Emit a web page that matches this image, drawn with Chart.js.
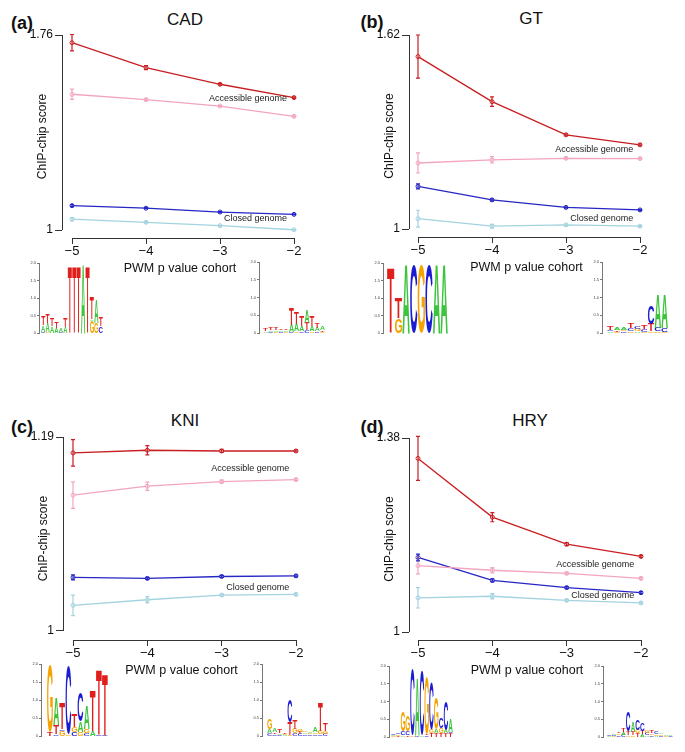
<!DOCTYPE html>
<html>
<head>
<meta charset="utf-8">
<script src="https://cdn.jsdelivr.net/npm/chart.js@4.4.0/dist/chart.umd.min.js"></script>
<style>
  body { margin: 0; background: #fff; font-family: "Liberation Sans", Arial, sans-serif; }
  #figure { position: relative; width: 685px; height: 752px; overflow: hidden; }
  #figure canvas { position: absolute; }
  .lbl { position: absolute; transform: translate(-50%, -50%); line-height: 1; white-space: nowrap; color: #111; }
  .panel { font-weight: bold; font-size: 18px; }
  .ttl { font-size: 17px; }
</style>
</head>
<body>
<div id="figure">
  <div class="lbl panel" style="left:22px;top:23px">(a)</div>
  <div class="lbl ttl" style="left:185px;top:19px">CAD</div>
  <div class="lbl panel" style="left:372px;top:22px">(b)</div>
  <div class="lbl ttl" style="left:531px;top:18px">GT</div>
  <div class="lbl panel" style="left:22px;top:427px">(c)</div>
  <div class="lbl ttl" style="left:185px;top:420px">KNI</div>
  <div class="lbl panel" style="left:372px;top:427px">(d)</div>
  <div class="lbl ttl" style="left:530px;top:420px">HRY</div>
</div>
<script>
/* data */

const cohorts = [-5, -4, -3, -2];

const cadAccDark = [1.730, 1.633, 1.568, 1.516];
const cadAccDarkErr = [0.032, 0.008, 0.003, 0.003];
const cadAccLight = [1.529, 1.508, 1.483, 1.443];
const cadAccLightErr = [0.020, 0.004, 0.002, 0.002];
const cadClosedDark = [1.095, 1.085, 1.070, 1.061];
const cadClosedDarkErr = [0.004, 0.002, 0.002, 0.002];
const cadClosedLight = [1.042, 1.030, 1.017, 1.001];
const cadClosedLightErr = [0.006, 0.003, 0.002, 0.002];

const gtAccDark = [1.551, 1.407, 1.301, 1.269];
const gtAccDarkErr = [0.069, 0.015, 0.003, 0.003];
const gtAccLight = [1.211, 1.221, 1.226, 1.225];
const gtAccLightErr = [0.032, 0.010, 0.003, 0.002];
const gtClosedDark = [1.136, 1.093, 1.069, 1.061];
const gtClosedDarkErr = [0.008, 0.003, 0.002, 0.002];
const gtClosedLight = [1.033, 1.009, 1.013, 1.009];
const gtClosedLightErr = [0.027, 0.006, 0.003, 0.002];

const kniAccDark = [1.1744, 1.1770, 1.1763, 1.1763];
const kniAccDarkErr = [0.013, 0.0046, 0.0015, 0.001];
const kniAccLight = [1.1330, 1.1418, 1.1463, 1.1483];
const kniAccLightErr = [0.013, 0.004, 0.0015, 0.001];
const kniClosedDark = [1.0525, 1.0515, 1.0534, 1.0540];
const kniClosedDarkErr = [0.0025, 0.001, 0.001, 0.001];
const kniClosedLight = [1.0251, 1.0306, 1.0352, 1.0358];
const kniClosedLightErr = [0.010, 0.003, 0.001, 0.001];

const hryAccDark = [1.340, 1.225, 1.172, 1.148];
const hryAccDarkErr = [0.043, 0.009, 0.003, 0.002];
const hryAccLight = [1.130, 1.121, 1.115, 1.105];
const hryAccLightErr = [0.016, 0.005, 0.002, 0.002];
const hryClosedDark = [1.146, 1.101, 1.087, 1.077];
const hryClosedDarkErr = [0.0065, 0.003, 0.002, 0.002];
const hryClosedLight = [1.067, 1.070, 1.062, 1.057];
const hryClosedLightErr = [0.020, 0.005, 0.002, 0.002];

/* sequence logos, letters listed bottom to top with their height in bits */

const cadLogoStrong = [
  [['C', .03], ['A', .2], ['T', .25]],
  [['G', .03], ['A', .25], ['T', .27]],
  [['A', .2], ['T', .22]],
  [['A', .15], ['T', .2]],
  [['C', .04], ['A', .1]],
  [['A', .18], ['T', .27]],
  [['T', 1.9]],
  [['T', 1.9]],
  [['T', 1.9]],
  [['A', 1.95]],
  [['T', 1.9]],
  [['G', .35], ['A', .05], ['T', .62]],
  [['G', .3], ['A', .65]],
  [['C', .2], ['T', .25]]
];
const cadLogoWeak = [
  [['A', .05], ['T', .07]],
  [['C', .04], ['A', .05], ['T', .06]],
  [['G', .03], ['A', .05], ['T', .06]],
  [['C', .04], ['A', .04], ['T', .05]],
  [['G', .03], ['A', .05], ['T', .05]],
  [['C', .03], ['A', .2], ['T', .47]],
  [['G', .05], ['A', .2], ['T', .32]],
  [['C', .05], ['A', .15], ['T', .3]],
  [['C', .08], ['T', .2], ['A', .35]],
  [['G', .05], ['A', .15], ['T', .3]],
  [['C', .05], ['A', .1], ['T', .15]],
  [['G', .03], ['T', .05], ['A', .12]]
];
const gtLogoStrong = [
  [['T', 1.85]],
  [['G', .42], ['T', .58]],
  [['A', 1.95]],
  [['C', 1.95]],
  [['G', 1.95]],
  [['C', 1.95]],
  [['A', 1.95]],
  [['A', 1.95]]
];
const gtLogoWeak = [
  [['A', .05], ['C', .04], ['T', .12]],
  [['G', .03], ['T', .05], ['A', .08]],
  [['C', .05], ['G', .04], ['A', .08]],
  [['G', .05], ['C', .08], ['T', .15]],
  [['A', .05], ['G', .06], ['C', .08]],
  [['G', .04], ['C', .06], ['T', .12]],
  [['G', .05], ['T', .2], ['C', .5]],
  [['G', .05], ['C', .1], ['A', .95]],
  [['G', .04], ['C', .1], ['A', .95]]
];
const kniLogoStrong = [
  [['T', .1], ['G', 1.85]],
  [['C', .05], ['T', .25], ['A', .75]],
  [['G', .15], ['C', .05], ['T', .7]],
  [['G', .05], ['C', 1.9]],
  [['C', .1], ['G', .15], ['T', .35]],
  [['G', .1], ['A', .3], ['C', .8]],
  [['C', .08], ['G', .12], ['A', .65]],
  [['A', .15], ['T', 1.1]],
  [['C', .03], ['T', 1.82]],
  [['C', .04], ['T', 1.7]]
];
const kniLogoWeak = [
  [['C', .08], ['A', .1], ['G', .3]],
  [['C', .05], ['T', .05], ['A', .12]],
  [['C', .04], ['A', .04], ['T', .1]],
  [['A', .03], ['G', .03], ['T', .05]],
  [['G', .03], ['T', .35], ['C', .6]],
  [['C', .07], ['G', .13], ['T', .25]],
  [['C', .06], ['T', .06], ['G', .08]],
  [['C', .05], ['A', .05], ['G', .05]],
  [['C', .05], ['G', .04], ['A', .04]],
  [['C', .05], ['G', .05], ['A', .15]],
  [['C', .05], ['G', .1], ['T', .8]],
  [['C', .06], ['G', .08], ['T', .2]]
];
const hryLogoStrong = [
  [['G', .03], ['A', .03], ['C', .05]],
  [['T', .03], ['G', .04], ['C', .05]],
  [['A', .05], ['C', .1], ['G', .55]],
  [['T', .05], ['C', .1], ['G', .45]],
  [['G', .05], ['C', 1.85]],
  [['C', .05], ['A', 1.6]],
  [['A', .05], ['C', 1.8]],
  [['C', .05], ['T', .05], ['G', 1.6]],
  [['T', .1], ['G', .1], ['C', 1.35]],
  [['T', .1], ['A', .1], ['G', .9]],
  [['T', .1], ['G', .15], ['C', .3]],
  [['T', .1], ['A', .1], ['C', .8]],
  [['T', .1], ['C', .05], ['A', .35]]
];
const hryLogoWeak = [
  [['A', .02], ['C', .02]],
  [['G', .03], ['C', .03], ['A', .04]],
  [['C', .05], ['G', .05], ['T', .05]],
  [['C', .06], ['A', .08], ['T', .1]],
  [['G', .05], ['T', .1], ['C', .55]],
  [['G', .05], ['T', .1], ['A', .3]],
  [['T', .1], ['G', .1], ['C', .3]],
  [['A', .08], ['T', .1], ['C', .22]],
  [['A', .05], ['C', .07], ['G', .08]],
  [['C', .05], ['G', .05], ['T', .08]],
  [['A', .04], ['G', .05], ['C', .08]],
  [['C', .04], ['G', .04], ['A', .05]],
  [['G', .03], ['A', .03]],
  [['C', .02], ['A', .02]]
];

/* colours */

const RED = '#c81e22', PINK = '#f3a5be', BLUE = '#2626c4', LBLUE = '#a3d3df';
const letterColors = { A: '#3cc43c', C: '#1c1cd2', G: '#f5a300', T: '#e01f1c' };

Chart.defaults.font.family = '"Liberation Sans", Arial, sans-serif';
Chart.defaults.color = '#111';

function series(values, errors, color) {
    return { values: values, errors: errors, color: color };
}

const panels = [
    { ox: 0, oy: 0, yAxisX: 62, x5: 72, x2: 294, yTop: 35, yBot: 230, axisY: 238, top: 1.76,
      series: [series(cadClosedLight, cadClosedLightErr, LBLUE), series(cadAccLight, cadAccLightErr, PINK),
               series(cadClosedDark, cadClosedDarkErr, BLUE), series(cadAccDark, cadAccDarkErr, RED)],
      notes: [['Accessible genome', -2.095, 1.511], ['Closed genome', -2.095, 1.043]] },
    { ox: 340, oy: 0, yAxisX: 409, x5: 418, x2: 640, yTop: 35, yBot: 229, axisY: 237, top: 1.62,
      series: [series(gtClosedLight, gtClosedLightErr, LBLUE), series(gtAccLight, gtAccLightErr, PINK),
               series(gtClosedDark, gtClosedDarkErr, BLUE), series(gtAccDark, gtAccDarkErr, RED)],
      notes: [['Accessible genome', -2.09, 1.2525], ['Closed genome', -2.09, 1.035]] },
    { ox: 0, oy: 380, yAxisX: 63, x5: 73, x2: 296, yTop: 437, yBot: 631, axisY: 640, top: 1.19,
      series: [series(kniClosedLight, kniClosedLightErr, LBLUE), series(kniAccLight, kniAccLightErr, PINK),
               series(kniClosedDark, kniClosedDarkErr, BLUE), series(kniAccDark, kniAccDarkErr, RED)],
      notes: [['Accessible genome', -2.09, 1.1596], ['Closed genome', -2.09, 1.043]] },
    { ox: 340, oy: 380, yAxisX: 409, x5: 418, x2: 641, yTop: 438, yBot: 632, axisY: 640, top: 1.38,
      series: [series(hryClosedLight, hryClosedLightErr, LBLUE), series(hryAccLight, hryAccLightErr, PINK),
               series(hryClosedDark, hryClosedDarkErr, BLUE), series(hryAccDark, hryAccDarkErr, RED)],
      notes: [['Accessible genome', -2.09, 1.133], ['Closed genome', -2.09, 1.0705]] }
];

const logos = [
    { columns: cadLogoStrong, axisX: 39, left: 41, right: 103, yTop: 263, yBot: 333 },
    { columns: cadLogoWeak, axisX: 259, left: 263, right: 325, yTop: 262, yBot: 333 },
    { columns: gtLogoStrong, axisX: 383, left: 387, right: 448, yTop: 263, yBot: 333 },
    { columns: gtLogoWeak, axisX: 602, left: 607, right: 668, yTop: 262, yBot: 333 },
    { columns: kniLogoStrong, axisX: 41, left: 47, right: 108, yTop: 664, yBot: 736 },
    { columns: kniLogoWeak, axisX: 262, left: 267, right: 328, yTop: 664, yBot: 736 },
    { columns: hryLogoStrong, axisX: 389, left: 391, right: 453, yTop: 666, yBot: 737 },
    { columns: hryLogoWeak, axisX: 603, left: 607, right: 673, yTop: 666, yBot: 737 }
];

/* plugins */

const errorBars = {
    id: 'errorBars',
    afterDatasetsDraw(chart) {
        const { ctx, scales: { x, y } } = chart;
        chart.data.datasets.forEach(function (ds) {
            ctx.save();
            ctx.strokeStyle = ds.borderColor;
            ctx.lineWidth = 1.2;
            ds.data.forEach(function (pt, i) {
                const e = ds.errors[i];
                const px = x.getPixelForValue(pt.x);
                const y0 = y.getPixelForValue(pt.y - e), y1 = y.getPixelForValue(pt.y + e);
                ctx.beginPath();
                ctx.moveTo(px, y0); ctx.lineTo(px, y1);
                ctx.moveTo(px - 2, y0); ctx.lineTo(px + 2, y0);
                ctx.moveTo(px - 2, y1); ctx.lineTo(px + 2, y1);
                ctx.stroke();
            });
            ctx.restore();
        });
    }
};

// R style axes: lines only over the tick range
const rAxes = {
    id: 'rAxes',
    afterDraw(chart, args, opts) {
        const { ctx, chartArea, scales: { x, y } } = chart;
        ctx.save();
        ctx.strokeStyle = '#333';
        ctx.lineWidth = 1;
        ctx.beginPath();
        ctx.moveTo(chartArea.left + 0.5, y.getPixelForValue(1));
        ctx.lineTo(chartArea.left + 0.5, y.getPixelForValue(opts.top));
        ctx.moveTo(x.getPixelForValue(cohorts[0]), chartArea.bottom + 0.5);
        ctx.lineTo(x.getPixelForValue(cohorts[cohorts.length - 1]), chartArea.bottom + 0.5);
        ctx.stroke();
        ctx.restore();
    }
};

const notes = {
    id: 'notes',
    afterDatasetsDraw(chart, args, opts) {
        const { ctx, scales: { x, y } } = chart;
        ctx.save();
        ctx.font = '9px "Liberation Sans", Arial, sans-serif';
        ctx.fillStyle = '#222';
        ctx.textAlign = 'right';
        ctx.textBaseline = 'middle';
        opts.items.forEach(function (n) {
            ctx.fillText(n[0], x.getPixelForValue(n[1]), y.getPixelForValue(n[2]));
        });
        ctx.restore();
    }
};

function drawLetter(ctx, letter, x0, x1, yTop, yBottom) {
    const bw = x1 - x0, bh = yBottom - yTop;
    if (bh < 0.3) return;
    ctx.save();
    ctx.font = 'bold 100px "Liberation Sans", Arial, sans-serif';
    ctx.textAlign = 'left';
    ctx.textBaseline = 'alphabetic';
    const m = ctx.measureText(letter);
    const gw = m.actualBoundingBoxLeft + m.actualBoundingBoxRight;
    const gh = m.actualBoundingBoxAscent + m.actualBoundingBoxDescent;
    ctx.translate(x0, yBottom);
    ctx.scale(bw / gw, bh / gh);
    ctx.fillStyle = letterColors[letter];
    ctx.fillText(letter, m.actualBoundingBoxLeft, -m.actualBoundingBoxDescent);
    ctx.restore();
}

const seqLogo = {
    id: 'seqLogo',
    afterDatasetsDraw(chart, args, opts) {
        const { ctx, scales: { x, y } } = chart;
        opts.columns.forEach(function (col, i) {
            const x0 = x.getPixelForValue(i + 0.5), x1 = x.getPixelForValue(i + 1.5);
            let base = 0;
            col.forEach(function (l) {
                drawLetter(ctx, l[0], x0 + 0.2, x1 - 0.2, y.getPixelForValue(base + l[1]), y.getPixelForValue(base));
                base += l[1];
            });
        });
    }
};

/* build charts */

const fig = document.getElementById('figure');

function addCanvas(left, top, w, h) {
    const cv = document.createElement('canvas');
    cv.width = w; cv.height = h;
    cv.style.left = left + 'px';
    cv.style.top = top + 'px';
    fig.appendChild(cv);
    return cv;
}

function makePanel(p) {
    const ppu = (p.x2 - p.x5) / 3;
    const yppu = (p.yBot - p.yTop) / (p.top - 1);
    const w = p.x2 + 4 + 6 - p.ox, h = p.axisY + 40 - p.oy;
    const cv = addCanvas(p.ox, p.oy, w, h);
    new Chart(cv, {
        type: 'line',
        data: {
            datasets: p.series.map(function (s) {
                return {
                    data: cohorts.map(function (c, i) { return { x: c, y: s.values[i] }; }),
                    errors: s.errors,
                    borderColor: s.color,
                    backgroundColor: s.color,
                    pointBorderColor: s.color,
                    pointBackgroundColor: 'rgba(255,255,255,0.5)',
                    borderWidth: 1.3,
                    pointRadius: 2,
                    pointBorderWidth: 1,
                    tension: 0,
                    clip: false
                };
            })
        },
        options: {
            responsive: false,
            animation: false,
            devicePixelRatio: 1,
            layout: { padding: { left: p.yAxisX - p.ox - 32, top: p.yTop - p.oy, right: 6, bottom: 0 } },
            plugins: {
                legend: { display: false },
                tooltip: { enabled: false },
                rAxes: { top: p.top },
                notes: { items: p.notes }
            },
            scales: {
                x: {
                    type: 'linear',
                    min: -5 - (p.x5 - p.yAxisX) / ppu,
                    max: -2 + 4 / ppu,
                    afterBuildTicks: function (s) { s.ticks = cohorts.map(function (v) { return { value: v }; }); },
                    afterFit: function (s) { s.height = 40; },
                    ticks: {
                        font: { size: 13 }, color: '#111', padding: 0, maxRotation: 0, autoSkip: false,
                        callback: function (v) { return '\u2212' + Math.abs(v); }
                    },
                    grid: { drawOnChartArea: false, tickLength: 6, color: '#333' },
                    border: { display: false },
                    title: { display: true, text: 'PWM p value cohort', font: { size: 12.5 }, color: '#111', padding: { top: 0, bottom: 2 } }
                },
                y: {
                    type: 'linear',
                    min: 1 - (p.axisY - p.yBot) / yppu,
                    max: p.top,
                    afterBuildTicks: function (s) { s.ticks = [{ value: 1 }, { value: p.top }]; },
                    afterFit: function (s) { s.width = 32; },
                    ticks: {
                        font: { size: 12 }, color: '#111', padding: 2,
                        callback: function (v) { return v === 1 ? '1' : v.toFixed(2); }
                    },
                    grid: { drawOnChartArea: false, tickLength: 7, color: '#333' },
                    border: { display: false },
                    title: { display: true, text: 'ChIP-chip score', font: { size: 12 }, color: '#111', padding: { top: 5, bottom: 0 } }
                }
            }
        },
        plugins: [errorBars, rAxes, notes]
    });
}

function makeLogo(l) {
    const n = l.columns.length;
    const colW = (l.right - l.left) / n;
    const cv = addCanvas(l.axisX - 14, l.yTop - 4, l.right + 2 - (l.axisX - 14), l.yBot - l.yTop + 8);
    new Chart(cv, {
        type: 'scatter',
        data: { datasets: [] },
        options: {
            responsive: false,
            animation: false,
            devicePixelRatio: 1,
            layout: { padding: { top: 4, bottom: 4, left: 0, right: 2 } },
            plugins: { legend: { display: false }, tooltip: { enabled: false }, seqLogo: { columns: l.columns } },
            scales: {
                x: { type: 'linear', display: false, min: 0.5 - (l.left - l.axisX) / colW, max: n + 0.5 },
                y: {
                    type: 'linear', min: 0, max: 2,
                    afterFit: function (s) { s.width = 14; },
                    ticks: { stepSize: 0.5, font: { size: 4 }, color: '#444', padding: 1 },
                    grid: { drawOnChartArea: false, tickLength: 2, color: '#777' },
                    border: { color: '#777' }
                }
            }
        },
        plugins: [seqLogo]
    });
}

panels.forEach(makePanel);
logos.forEach(makeLogo);
</script>
</body>
</html>
